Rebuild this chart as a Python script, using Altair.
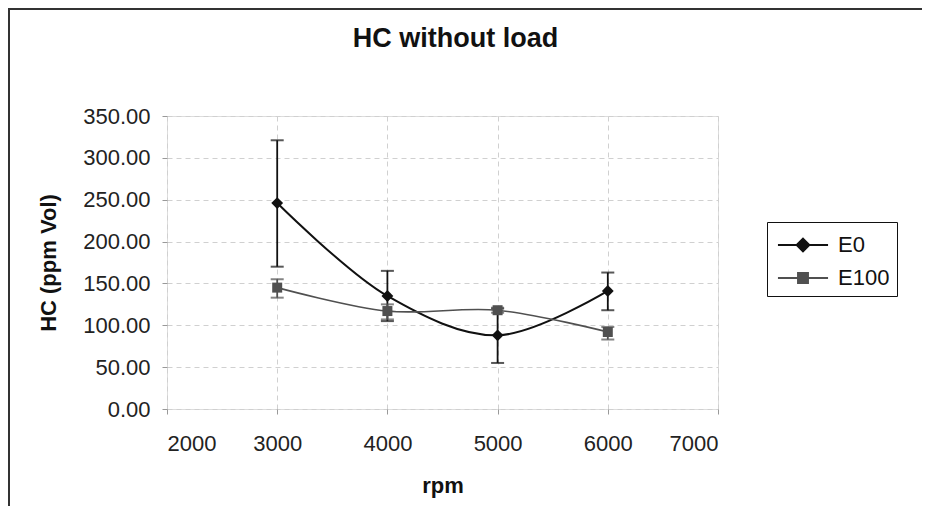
import altair as alt
import pandas as pd

rpm = [3000, 4000, 5000, 6000]
series_names = ["E0", "E100"]
e0_mean = [246, 135, 88, 141]
e0_low = [170, 105, 55, 118]
e0_high = [321, 165, 120, 163]
e100_mean = [145, 117, 118, 92]
e100_low = [133, 107, 115, 83]
e100_high = [155, 125, 121, 98]

rows = []
for i, r in enumerate(rpm):
    rows.append({"rpm": r, "series": "E0", "hc": e0_mean[i], "lo": e0_low[i], "hi": e0_high[i]})
for i, r in enumerate(rpm):
    rows.append({"rpm": r, "series": "E100", "hc": e100_mean[i], "lo": e100_low[i], "hi": e100_high[i]})
df = pd.DataFrame(rows)

FONT = "Liberation Sans"
colors = ["#111111", "#505050"]

x = alt.X("rpm:Q", title="rpm",
          scale=alt.Scale(domain=[2000, 7000], nice=False, zero=False),
          axis=alt.Axis(values=[2000, 3000, 4000, 5000, 6000, 7000], format="d",
                        labelFontSize=22, titleFontSize=22, titleFontWeight="bold",
                        labelColor="#222222", titleColor="#111111",
                        labelPadding=19, titlePadding=21,
                        tickColor="#999999", tickSize=5, domain=False,
                        grid=True, gridColor="#d0d0d0", gridDash=[5, 4],
                        labelFont=FONT, titleFont=FONT))
y = alt.Y("hc:Q", title="HC (ppm Vol)",
          scale=alt.Scale(domain=[0, 350], nice=False),
          axis=alt.Axis(values=[0, 50, 100, 150, 200, 250, 300, 350], format=".2f",
                        labelFontSize=22, titleFontSize=22, titleFontWeight="bold",
                        labelColor="#222222", titleColor="#111111",
                        labelPadding=12, titlePadding=22,
                        tickColor="#999999", tickSize=5, domain=False,
                        grid=True, gridColor="#d0d0d0", gridDash=[5, 4],
                        labelFont=FONT, titleFont=FONT))

base = alt.Chart(df)
layers = []
for s, col, shape, size, lw in [("E0", colors[0], "diamond", 140, 2.0),
                                ("E100", colors[1], "square", 100, 1.6)]:
    b = base.transform_filter(alt.datum.series == s)
    layers.append(b.mark_line(interpolate="catmull-rom", strokeWidth=lw, color=col).encode(x=x, y=y))
    layers.append(b.mark_rule(strokeWidth=1.8, color=col).encode(x="rpm:Q", y="lo:Q", y2="hi:Q"))
    layers.append(b.mark_tick(orient="horizontal", size=13, thickness=2, color=col).encode(x="rpm:Q", y="lo:Q"))
    layers.append(b.mark_tick(orient="horizontal", size=13, thickness=2, color=col).encode(x="rpm:Q", y="hi:Q"))
    layers.append(b.mark_point(shape=shape, filled=True, size=size, opacity=1, color=col).encode(x="rpm:Q", y="hc:Q"))

# legend-carrying layer (no marks of its own; scale domains are explicit)
diamond_path = ("M-1.67,0H1.67 M0,-0.42L0.42,0L0,0.42L-0.42,0Z M0,-0.28L0.28,0L0,0.28L-0.28,0Z "
                "M0,-0.14L0.14,0L0,0.14L-0.14,0Z")
square_path = ("M-1.67,0H1.67 M-0.33,-0.33H0.33V0.33H-0.33Z M-0.2,-0.2H0.2V0.2H-0.2Z "
               "M-0.07,-0.07H0.07V0.07H-0.07Z")
legend = alt.Legend(title=None, orient="none", legendX=600, legendY=106,
                    strokeColor="#111111", padding=7, rowPadding=6,
                    symbolSize=900, symbolStrokeWidth=2, symbolOffset=13, symbolOpacity=1,
                    labelOffset=19, labelFontSize=22, labelFont=FONT, labelColor="#111111")
legend_layer = base.transform_filter("false").mark_point(filled=False, size=900, strokeWidth=2, opacity=1).encode(
    x="rpm:Q", y="hc:Q",
    color=alt.Color("series:N", scale=alt.Scale(domain=series_names, range=colors), legend=legend),
    shape=alt.Shape("series:N", scale=alt.Scale(domain=series_names, range=[diamond_path, square_path]), legend=legend),
)
layers.append(legend_layer)

# outer figure frame (decoration)
frame_top = alt.Chart(pd.DataFrame({"a": [0]})).mark_rule(color="#333333", strokeWidth=2).encode(
    x=alt.value(-159), x2=alt.value(755), y=alt.value(-107))
frame_left = alt.Chart(pd.DataFrame({"a": [0]})).mark_rule(color="#333333", strokeWidth=2).encode(
    x=alt.value(-158), y=alt.value(-108), y2=alt.value(390))
layers += [frame_top, frame_left]

chart = alt.layer(*layers).properties(
    width=551, height=293,
    padding={"left": 159, "top": 108, "right": 204, "bottom": 97},
    autosize="none",
    title=alt.TitleParams("HC without load", fontSize=27, fontWeight="bold", font=FONT,
                          color="#111111", anchor="middle", dx=13, offset=0, dy=46),
).configure_view(stroke="#7a7a7a", strokeWidth=2).configure(background="white")

chart.save("out.html", embed_options={"renderer": "svg", "actions": False})
